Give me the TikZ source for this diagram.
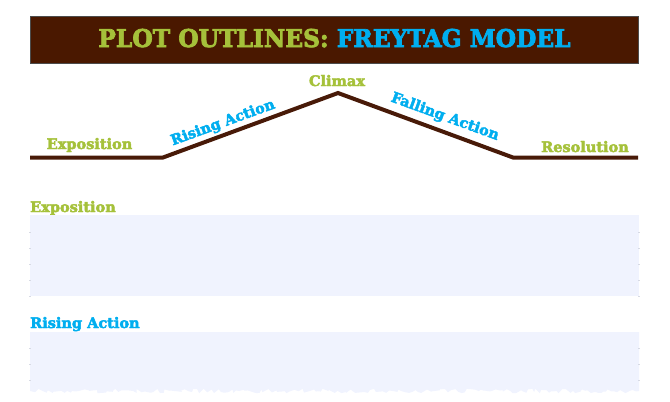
\documentclass[tikz,border=0pt]{standalone}
\usepackage{fontspec}
\setmainfont{DejaVu Serif}[BoldFeatures={FakeBold=3}]
\usetikzlibrary{decorations.pathmorphing}
\definecolor{boxbrown}{RGB}{74,24,0}
\definecolor{linebrown}{RGB}{72,26,8}
\definecolor{lgreen}{RGB}{165,193,58}
\definecolor{lblue}{RGB}{0,174,239}
\definecolor{bandcol}{RGB}{240,243,254}
\definecolor{tickcol}{RGB}{215,218,228}
\begin{document}
\begin{tikzpicture}[x=1pt,y=-1pt,
  lbl/.style={font=\bfseries\fontsize{14.5}{14.5}\selectfont, inner sep=0pt},
  grn/.style={lbl, text=lgreen},
  blu/.style={lbl, text=lblue},
  plotline/.style={line width=4pt, draw=linebrown, line join=miter},
  band/.style={fill=bandcol},
  tick/.style={draw=tickcol, line width=0.8pt}]
\useasboundingbox (0,0) rectangle (670,402);
% title
\node[draw=black!70, line width=0.8pt, fill=boxbrown, minimum width=608pt, minimum height=47pt, anchor=north west, inner sep=0pt] (title) at (30,16) {};
\node[font=\bfseries\fontsize{24.5}{24.5}\selectfont, inner sep=0pt, anchor=base] (titletext) at (334.5,47) {\scalebox{0.955}[1]{\textcolor{lgreen}{PLOT OUTLINES:} \textcolor{lblue}{FREYTAG MODEL}}};
% plot line
\coordinate (s) at (30,157.5);
\coordinate (k1) at (163,157.5);
\coordinate (pk) at (338,93);
\coordinate (k2) at (513,157.5);
\coordinate (e) at (638,157.5);
\draw[plotline] (s) -- (k1) -- (pk) -- (k2) -- (e);
% labels
\node[grn, anchor=base] (expo) at (89.5,149) {Exposition};
\node[blu, rotate=20] (rising) at (223,123) {Rising Action};
\node[grn, anchor=base] (climax) at (337,86) {Climax};
\node[blu, rotate=-20] (falling) at (445,117) {Falling Action};
\node[grn, anchor=base] (resol) at (585,152) {Resolution};
% lower headings
\node[grn, anchor=base west] (expohead) at (30,212) {Exposition};
\node[blu, anchor=base west] (risinghead) at (30,328) {Rising Action};
% bands
\fill[band] (30,215) rectangle (639,296);
\pgfmathsetseed{7}
\fill[band, decoration={random steps, segment length=3pt, amplitude=2.2pt}]
  (30,332) -- (639,332) -- (639,391) decorate {-- (30,391)} -- cycle;
% faint ruling ticks
\foreach \yy in {232,248,264,280,296} {
  \draw[tick] (29,\yy) -- (31,\yy);
  \draw[tick] (638,\yy) -- (640,\yy);
}
\foreach \yy in {348,364,380} {
  \draw[tick] (29,\yy) -- (31,\yy);
  \draw[tick] (638,\yy) -- (640,\yy);
}
\end{tikzpicture}
\end{document}
